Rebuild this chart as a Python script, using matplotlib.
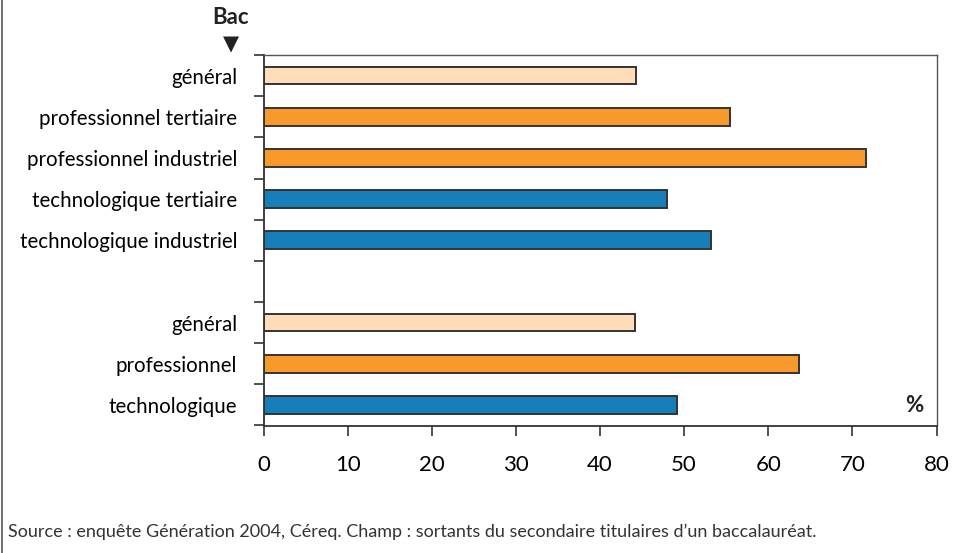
import numpy as np
import matplotlib.pyplot as plt
from matplotlib.lines import Line2D

plt.rcParams['font.family'] = ['Lato', 'DejaVu Sans']

# categories top to bottom; empty string = blank slot between the two groups
labels = ["général", "professionnel tertiaire", "professionnel industriel",
          "technologique tertiaire", "technologique industriel", "",
          "général", "professionnel", "technologique"]
values = [44.3, 55.4, 71.6, 48.0, 53.2, np.nan, 44.2, 63.6, 49.2]
kinds = ["gen", "pro", "pro", "tech", "tech", "gen", "gen", "pro", "tech"]
xticks = [0, 10, 20, 30, 40, 50, 60, 70, 80]

palette = {"gen": "#FEDDB8", "pro": "#F7992B", "tech": "#167EB9"}

fig = plt.figure(figsize=(9.55, 5.53), dpi=100)
ax = fig.add_axes([263.5 / 955, 127.5 / 553, 673 / 955, 370.5 / 553])

y = np.arange(len(labels))
ax.barh(y, values, height=0.43, color=[palette[k] for k in kinds],
        edgecolor="#333333", linewidth=1.4)

ax.set_xlim(0, 80)
ax.set_ylim(len(labels) - 0.5, -0.5)
ax.set_xticks(xticks)
ax.set_xticklabels([str(t) for t in xticks], fontsize=16)
ax.tick_params(axis="x", direction="out", length=7, width=1.2, color="#333333", pad=14)

ax.set_yticks(y)
ax.set_yticklabels(labels, fontsize=14.8)
ax.tick_params(axis="y", length=0, pad=19)
ax.set_yticks(np.arange(-0.5, len(labels)), minor=True)
ax.tick_params(axis="y", which="minor", direction="out", length=7, width=1.2, color="#333333")

for s in ax.spines.values():
    s.set_color("#555555")
    s.set_linewidth(1.0)
ax.spines["left"].set_linewidth(1.3)
ax.spines["bottom"].set_linewidth(1.3)
ax.spines["bottom"].set_color("#333333")
ax.spines["left"].set_color("#333333")

fig.text(231 / 955, 1 - 18 / 553, "Bac", ha="center", va="center",
         fontsize=16, fontweight="bold", color="#222222")
fig.text(231 / 955, 1 - 44 / 553, "▼", ha="center", va="center",
         fontsize=15, color="#222222", family="DejaVu Sans")
ax.text(0.967, 0.055, "%", transform=ax.transAxes, ha="center", va="center",
        fontsize=16, fontweight="bold", color="#222222")

fig.text(8 / 955, 1 - 532 / 553, "Source : enquête Génération 2004, Céreq. "
         "Champ : sortants du secondaire titulaires d\u2019un baccalauréat.",
         ha="left", va="center", fontsize=13, color="#333333")

fig.add_artist(Line2D([1.5 / 955, 1.5 / 955], [0, 1], transform=fig.transFigure,
                      color="#555555", linewidth=1.2))

fig.savefig("out.png", dpi=100)
